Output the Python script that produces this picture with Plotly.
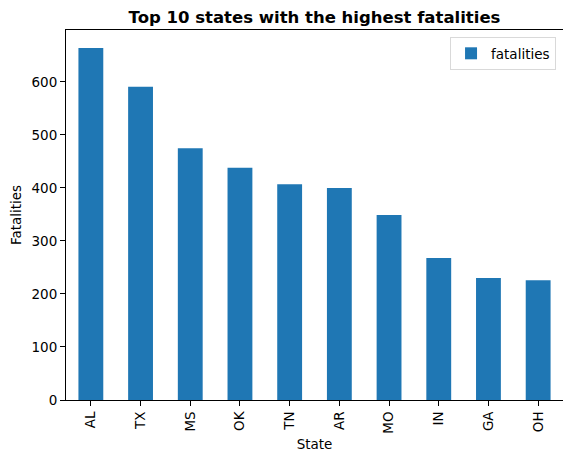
"""Bar chart of the 10 states with the highest tornado fatalities."""

import plotly.graph_objects as go

STATES = ["AL", "TX", "MS", "OK", "TN", "AR", "MO", "IN", "GA", "OH"]
FATALITIES = [664, 591, 475, 438, 407, 400, 349, 268, 230, 226]
Y_TICKS = [0, 100, 200, 300, 400, 500, 600]

FONT = "DejaVu Sans"
BLUE = "#1f77b4"

# the page body adds an 8px offset, so the figure is drawn 8px smaller
WIDTH, HEIGHT = 563, 454


def main() -> None:
    fig = go.Figure(
        go.Bar(
            x=STATES,
            y=FATALITIES,
            name="fatalities",
            marker=dict(color=BLUE, line=dict(width=0)),
            width=0.5,
            showlegend=True,
        )
    )

    axis_common = dict(
        showline=True,
        linecolor="black",
        linewidth=1,
        mirror=True,
        ticks="outside",
        ticklen=5,
        tickwidth=1,
        tickcolor="black",
        showgrid=False,
        zeroline=False,
        automargin=False,
        tickfont=dict(family=FONT, size=13.5, color="black"),
        title_font=dict(family=FONT, size=13.5, color="black"),
    )

    fig.update_layout(
        width=WIDTH,
        height=HEIGHT,
        margin=dict(l=58, r=8, t=22, b=62),
        paper_bgcolor="white",
        plot_bgcolor="white",
        bargap=0.5,
        title=dict(
            text="<b>Top 10 states with the highest fatalities</b>",
            x=(58 + 555) / 2 / WIDTH,
            xanchor="center",
            y=1 - 9.5 / HEIGHT,
            yanchor="middle",
            font=dict(family=FONT, size=16.5, color="black"),
        ),
        legend=dict(
            x=0.986,
            y=0.981,
            xanchor="right",
            yanchor="top",
            bordercolor="#d9d9d9",
            borderwidth=1,
            bgcolor="white",
            font=dict(family=FONT, size=13.5, color="black"),
        ),
        xaxis=dict(
            axis_common,
            title=dict(text="State", standoff=6),
            tickangle=-90,
            range=[-0.5, 9.5],
        ),
        yaxis=dict(
            axis_common,
            title=dict(text="Fatalities", standoff=8),
            tickvals=Y_TICKS,
            range=[0, 698],
        ),
    )

    fig.write_html("out.html")


if __name__ == "__main__":
    main()
